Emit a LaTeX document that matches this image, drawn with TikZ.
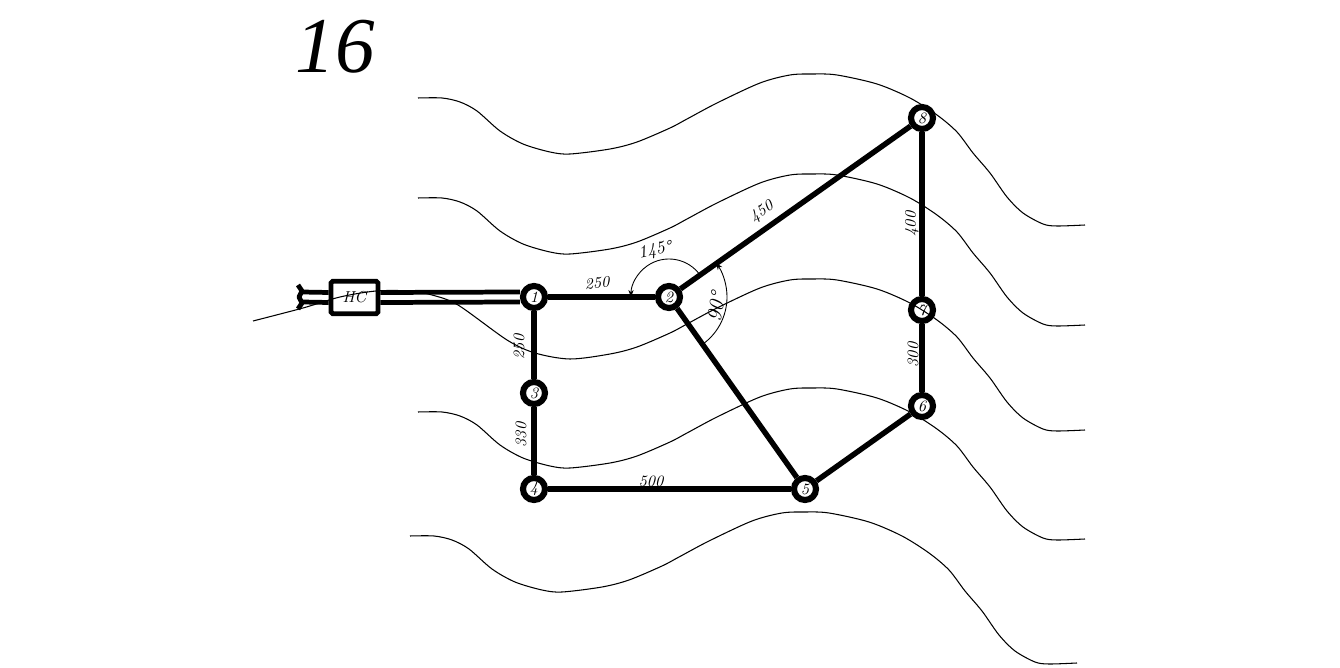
\documentclass[tikz,border=0pt]{standalone}
\usepackage{fontspec}
\usepackage{xcolor}
\usetikzlibrary{arrows.meta}
\newfontfamily\titlefont{Liberation Serif}

\tikzset{
  junction/.style={draw,circle,line width=3.5pt,minimum size=0.44cm,inner sep=0pt,font=\itshape\small},
  pipe/.style={line width=3.1pt},
  twin/.style={line width=2.7pt},
  contour/.style={line width=0.6pt,smooth},
  dim/.style={inner sep=0pt,font=\itshape\small},
  arcmark/.style={line width=0.5pt,-{Stealth[length=4pt,width=3pt]}}
}

\begin{document}
\begin{tikzpicture}[x=0.02cm,y=-0.02cm]
\useasboundingbox (0,0) rectangle (1340,668);

% ground contours
\foreach \dx/\dy in {0/0,0/100,0/314,-8/438}{
  \draw[contour,xshift=\dx*0.02cm,yshift=-\dy*0.02cm] plot coordinates {(418,98) (442,98) (460,102) (477,111) (500,131) (523,144) (550,152) (570,154) (610,149) (637,142) (670,128) (687,119) (717,103) (760,83) (790,75) (813,74) (837,75) (877,84) (910,98) (937,115) (957,132) (973,153) (990,173) (1007,197) (1023,213) (1043,224) (1057,226) (1085,225)};
}
\draw[contour] plot coordinates {(253,321) (303,308) (340,297) (376,291) (410,291) (432,295) (458,305) (507,340) (535,353) (570,359) (610,354) (637,347) (670,333) (687,324) (717,308) (760,288) (790,280) (813,279) (837,280) (877,289) (910,303) (937,320) (957,337) (973,358) (990,378) (1007,402) (1023,418) (1043,429) (1057,431) (1085,430)};

\node[dim,font=\titlefont\itshape\fontsize{45}{45}\selectfont] (title) at (335,47) {16};

% junctions
\node[junction] (n1) at (534,297) {1};
\node[junction] (n2) at (669,297) {2};
\node[junction] (n3) at (534,393) {3};
\node[junction] (n4) at (534,489) {4};
\node[junction] (n5) at (805,489) {5};
\node[junction] (n6) at (922,406) {6};
\node[junction] (n7) at (922,310) {7};
\node[junction] (n8) at (922,118) {8};

% pump station and intake
\node[draw,line width=2.8pt,rounded corners=1pt,minimum width=0.94cm,minimum height=0.65cm,inner sep=0pt,font=\itshape\small] (hc) at (354.5,297.5) {HC};
\coordinate (intake) at (302,297);
\draw[twin] ([yshift=0.1cm]intake) -- ([yshift=0.1cm]hc.west);
\draw[twin] ([yshift=-0.1cm]intake) -- ([yshift=-0.1cm]hc.west);
\draw[twin] ([yshift=0.1cm]hc.east) -- ([yshift=0.1cm]n1.west);
\draw[twin] ([yshift=-0.1cm]hc.east) -- ([yshift=-0.1cm]n1.west);
\draw[twin,line join=round] (298,285) -- (302,291) -- (299,297) -- (302,303) -- (298,309);

% network
\draw[pipe] (n1) -- (n2);
\draw[pipe] (n1) -- (n3);
\draw[pipe] (n3) -- (n4);
\draw[pipe] (n4) -- (n5);
\draw[pipe] (n2) -- (n5);
\draw[pipe] (n5) -- (n6);
\draw[pipe] (n6) -- (n7);
\draw[pipe] (n7) -- (n8);
\draw[pipe] (n2) -- (n8);

% angles
\draw[arcmark] (n2.center) ++(35:38*0.02cm) arc (35:180:38*0.02cm);
\draw[arcmark] (n2.center) ++(-55:58*0.02cm) arc (-55:36:58*0.02cm);

% lengths
\node[dim,rotate=5] (l12) at (597,283) {250};
\node[dim,rotate=90] (l13) at (519,347) {250};
\node[dim,rotate=90] (l34) at (521,435) {330};
\node[dim] (l45) at (651,481) {500};
\node[dim,rotate=90] (l67) at (913,355) {300};
\node[dim,rotate=90] (l78) at (912,224) {400};
\node[dim,rotate=35] (l28) at (762,212) {450};
\node[dim,font=\itshape\normalsize,rotate=12] (a145) at (655,251) {145°};
\node[dim,font=\itshape\large,rotate=80] (a90) at (716,307) {90°};
\end{tikzpicture}
\end{document}
